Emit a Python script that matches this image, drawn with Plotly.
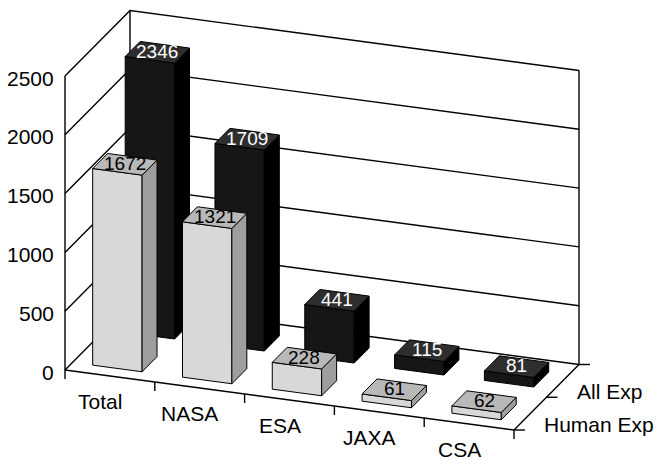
import plotly.graph_objects as go

# ---------------- data ----------------
categories = ["Total", "NASA", "ESA", "JAXA", "CSA"]
series_names = ["Human Exp", "All Exp"]
human_exp = [1672, 1321, 228, 61, 62]
all_exp = [2346, 1709, 441, 115, 81]
value_ticks = [0, 500, 1000, 1500, 2000, 2500]

# ---------------- 3D (orthographic) projection ----------------
ORIGIN = (65.0, 370.0)       # screen position of (cat=0, depth=0, value=0)
U = (89.8, 12.0)             # one category step
W = (32.5, -32.75)           # one series (depth) step
VMAX = value_ticks[-1]
VSCALE = 294.0 / VMAX        # pixels per value unit


def P(c, d, v):
    return (ORIGIN[0] + U[0] * c + W[0] * d,
            ORIGIN[1] + U[1] * c + W[1] * d - VSCALE * v)


FONT = "Liberation Sans, Arial, sans-serif"
fig = go.Figure()


def add_lines(segments, width=1.4, color="black"):
    xs, ys = [], []
    for seg in segments:
        for p in seg:
            xs.append(p[0]); ys.append(p[1])
        xs.append(None); ys.append(None)
    fig.add_trace(go.Scatter(x=xs, y=ys, mode="lines",
                             line=dict(color=color, width=width),
                             hoverinfo="skip", showlegend=False))


def add_poly(pts, fill, lw=1.0):
    xs = [p[0] for p in pts] + [pts[0][0]]
    ys = [p[1] for p in pts] + [pts[0][1]]
    fig.add_trace(go.Scatter(x=xs, y=ys, mode="lines", fill="toself",
                             fillcolor=fill, line=dict(color="black", width=lw),
                             hoverinfo="skip", showlegend=False))


ncat = len(categories)
nser = len(series_names)

# walls: gridlines on left wall and back wall
segs = []
for v in value_ticks:
    segs.append([P(0, 0, v), P(0, nser, v), P(ncat, nser, v)])
# vertical edges
segs.append([P(0, 0, 0), P(0, 0, VMAX)])
segs.append([P(0, nser, 0), P(0, nser, VMAX)])
segs.append([P(ncat, nser, 0), P(ncat, nser, VMAX)])
# floor edges
segs.append([P(0, 0, 0), P(ncat, 0, 0), P(ncat, nser, 0)])
add_lines(segs)

# ticks
tsegs = []
for k in range(ncat + 1):
    x, y = P(k, 0, 0)
    tsegs.append([(x, y), (x, y + 9)])
for k in range(nser + 1):
    x, y = P(ncat, k, 0)
    tsegs.append([(x, y), (x + 11, y)])
add_lines(tsegs)

# bars
styles = {
    0: dict(front="#d8d8d8", side="#9e9e9e", top="#b8b8b8", text="black"),
    1: dict(front="#161616", side="#000000", top="#2e2e2e", text="white"),
}
series_values = [human_exp, all_exp]
C0, C1 = 0.225, 0.775
D0, D1 = 0.23, 0.69

annotations = []
for s in [1, 0]:
    vals = series_values[s]
    st = styles[s]
    for i, h in enumerate(vals):
        c0, c1 = i + C0, i + C1
        d0, d1 = s + D0, s + D1
        add_poly([P(c0, d0, 0), P(c1, d0, 0), P(c1, d0, h), P(c0, d0, h)], st["front"])
        add_poly([P(c1, d0, 0), P(c1, d1, 0), P(c1, d1, h), P(c1, d0, h)], st["side"])
        add_poly([P(c0, d0, h), P(c1, d0, h), P(c1, d1, h), P(c0, d1, h)], st["top"])
        tx, ty = P((c0 + c1) / 2, (d0 + d1) / 2, h)
        annotations.append(dict(x=tx, y=ty - 1, text=str(h), showarrow=False,
                                xanchor="center", yanchor="middle",
                                font=dict(family=FONT, size=19, color=st["text"])))

# value axis labels
for v in value_ticks:
    x, y = P(0, 0, v)
    annotations.append(dict(x=x - 9, y=y + 2, text=str(v), showarrow=False,
                            xanchor="right", yanchor="middle",
                            font=dict(family=FONT, size=21, color="black")))

# category labels
for i, name in enumerate(categories):
    x, y = P(i + 0.5, 0, 0)
    annotations.append(dict(x=x - 10, y=y + 25, text=name, showarrow=False,
                            xanchor="center", yanchor="middle",
                            font=dict(family=FONT, size=21, color="black")))

# series labels
for s, name in enumerate(series_names):
    x, y = P(ncat, s + 0.5, 0)
    annotations.append(dict(x=x + 12, y=y + 11, text=name, showarrow=False,
                            xanchor="left", yanchor="middle",
                            font=dict(family=FONT, size=21, color="black")))

fig.update_layout(
    width=659, height=460, autosize=False,
    margin=dict(l=0, r=0, t=0, b=0),
    paper_bgcolor="white", plot_bgcolor="white",
    xaxis=dict(range=[0, 659], visible=False, fixedrange=True),
    yaxis=dict(range=[460, 0], visible=False, fixedrange=True),
    annotations=annotations,
    showlegend=False,
)
fig.write_html("out.html")
